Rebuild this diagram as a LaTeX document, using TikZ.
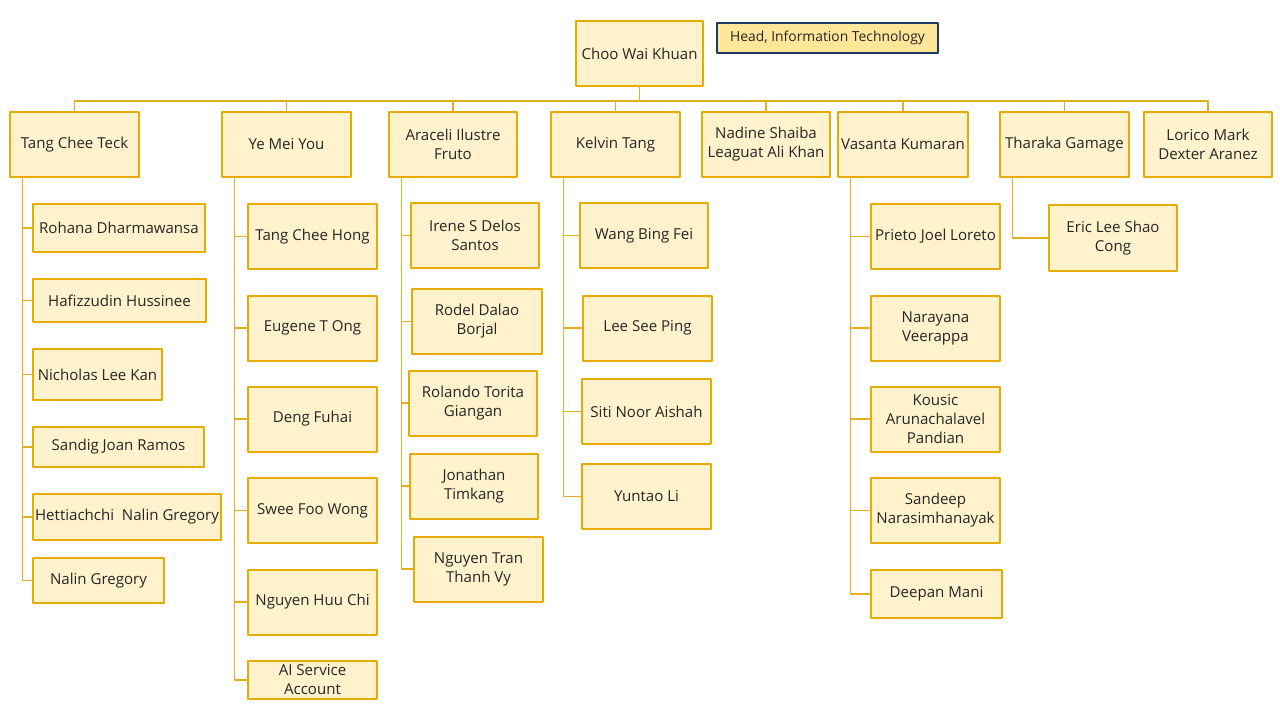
\documentclass[tikz,border=0pt]{standalone}
\usepackage{fontspec}
\setmainfont{Open Sans}
\usetikzlibrary{calc}
\definecolor{boxline}{HTML}{E6AC00}
\definecolor{boxfill}{HTML}{FFF2CC}
\definecolor{titlefill}{HTML}{FFE699}
\definecolor{titleline}{HTML}{203864}
\definecolor{linkline}{HTML}{E4AE20}
\def\px{0.75pt}
\begin{document}
\begin{tikzpicture}[x=0.75pt,y=-0.75pt,line cap=round,line join=round,
   person/.style={draw=boxline,fill=boxfill,line width=1.5pt,align=center,inner sep=1pt,
      text=black!85,font=\fontsize{11.3}{14.25}\selectfont},
   titlebox/.style={draw=titleline,fill=titlefill,line width=1.5pt,inner sep=1pt,
      text=black!85,font=\fontsize{10.4}{12}\selectfont},
   link/.style={draw=linkline,line width=0.8pt}]
\useasboundingbox (0,0) rectangle (1280,720);
% head of the department and its title
\node[person,minimum width=127*\px,minimum height=65*\px] (root) at (639.5,53.5) {Choo Wai Khuan};
\node[titlebox,minimum width=221*\px,minimum height=30*\px] (title) at (827.5,38) {Head, Information Technology};
% first level, all at the same height
\foreach\n/\cx/\w/\t in {t1/74.5/129/Tang Chee Teck, t2/286.5/129/Ye Mei You,
   t3/453/128/Araceli Ilustre\\Fruto, t4/615.5/129/Kelvin Tang,
   t5/766/128/Nadine Shaiba\\Leaguat Ali Khan, t6/903/130/Vasanta Kumaran,
   t7/1064.5/129/Tharaka Gamage, t8/1208/128/Lorico Mark\\Dexter Aranez}
{%
  \node[person,minimum width=\w*\px,minimum height=65*\px] (\n) at (\cx,144.5) {\t};
  \draw[link] (root.south) -- ++(0,14) -| (\n.north);
}
% second level, hung on a line along the left side of each parent
\foreach\p/\n/\cx/\cy/\w/\h/\t in {%
   t1/c11/119/228/172/48/Rohana Dharmawansa,
   t1/c12/119.5/300.5/173/43/Hafizzudin Hussinee,
   t1/c13/97.5/374.5/129/51/Nicholas Lee Kan,
   t1/c14/118.5/447/171/40/Sandig Joan Ramos,
   t1/c15/127/517/188/46/Hettiachchi\ \ Nalin Gregory,
   t1/c16/98.5/580.5/131/45/Nalin Gregory,
   t2/c21/312.5/236.5/129/65/Tang Chee Hong,
   t2/c22/312.5/328/129/65/Eugene T Ong,
   t2/c23/312.5/419/129/65/Deng Fuhai,
   t2/c24/312.5/510.5/129/65/Swee Foo Wong,
   t2/c25/312.5/602/129/65/Nguyen Huu Chi,
   t2/c26/312.5/680/129/38/AI Service\\Account,
   t3/c31/475/235.5/128/65/Irene S Delos\\Santos,
   t3/c32/477/321.5/130/65/Rodel Dalao\\Borjal,
   t3/c33/473/403/128/65/Rolando Torita\\Giangan,
   t3/c34/474/486/128/65/Jonathan\\Timkang,
   t3/c35/478.5/569/129/65/Nguyen Tran\\Thanh Vy,
   t4/c41/644/235.5/128/65/Wang Bing Fei,
   t4/c42/647.5/328/129/65/Lee See Ping,
   t4/c43/646.5/411.5/129/65/Siti Noor Aishah,
   t4/c44/646.5/496.5/129/65/Yuntao Li,
   t6/c61/935.5/236.5/129/65/Prieto Joel Loreto,
   t6/c62/935.5/328/129/65/Narayana\\Veerappa,
   t6/c63/935.5/419/129/65/Kousic\\Arunachalavel\\Pandian,
   t6/c64/935.5/510.5/129/65/Sandeep\\Narasimhanayak,
   t6/c65/936.5/594/131/48/Deepan Mani,
   t7/c71/1113/238/128/65/Eric Lee Shao\\Cong}
{%
  \node[person,minimum width=\w*\px,minimum height=\h*\px] (\n) at (\cx,\cy) {\t};
  \draw[link] ($(\p.south west)+(13.5,0)$) |- (\n.west);
}
\end{tikzpicture}
\end{document}
